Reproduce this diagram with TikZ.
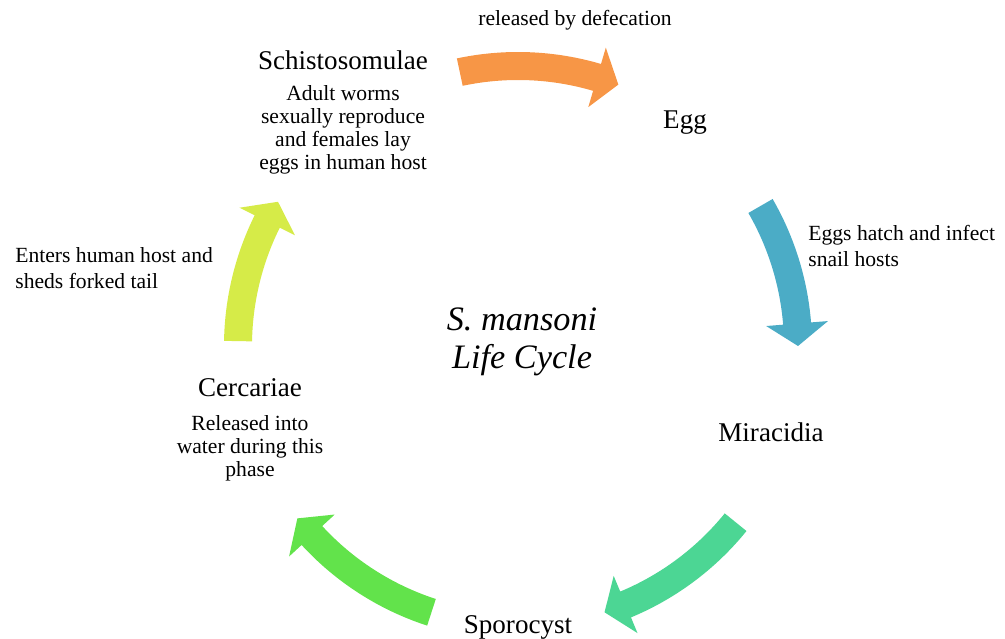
\documentclass[tikz,border=0pt]{standalone}
\usepackage{fontspec}
\setmainfont{Liberation Serif}
\usetikzlibrary{calc}
\definecolor{arrOrange}{HTML}{F79646}
\definecolor{arrTeal}{HTML}{4BACC6}
\definecolor{arrMint}{HTML}{4CD694}
\definecolor{arrGreen}{HTML}{62E34B}
\definecolor{arrLime}{HTML}{D6EB48}
% block arc arrow round (cen): colour, tail angle, tip angle
\newcommand{\cyclearrow}[3]{%
  \fill[#1] ($(cen)+(#2:5.88)$) arc[start angle=#2, end angle=#3+4.6, radius=5.88]
    -- ($(cen)+(#3+4.6:6.22)$) -- ($(cen)+(#3:5.6)$) -- ($(cen)+(#3+4.6:4.98)$)
    -- ($(cen)+(#3+4.6:5.32)$) arc[start angle=#3+4.6, end angle=#2, radius=5.32] -- cycle;}

\begin{document}
\begin{tikzpicture}[
			stage/.style={inner sep=0pt, font=\fontsize{15.4}{18}\selectfont},
			desc/.style={inner sep=0pt, align=center, font=\fontsize{12.3}{13.1}\selectfont},
			note/.style={inner sep=0pt, align=left, anchor=west, font=\fontsize{12.3}{14.8}\selectfont}
		]
		\useasboundingbox (0,0) rectangle (20.1,12.76);
		\coordinate (cen) at (10.36,5.84);

		\cyclearrow{arrOrange}{102}{69}
		\cyclearrow{arrTeal}{30}{0}
		\cyclearrow{arrMint}{-39}{-72}
		\cyclearrow{arrGreen}{-108}{-142}
		\cyclearrow{arrLime}{179}{149}

		\node[stage] (sch) at (6.86,11.56) {Schistosomulae};
		\node[desc] (schtxt) at (6.86,10.17) {Adult worms\\sexually reproduce\\and females lay\\eggs in human host};
		\node[stage] (egg) at (13.70,10.30) {Egg};
		\node[stage] (mir) at (15.42,4.12) {Miracidia};
		\node[stage] (spo) at (10.36,0.22) {Sporocyst};
		\node[stage] (cer) at (5.00,5.00) {Cercariae};
		\node[desc] (certxt) at (5.00,3.80) {Released into\\water during this\\phase};

		\node[desc] (defec) at (11.50,12.36) {released by defecation};
		\node[note] (hatch) at (16.16,7.84) {Eggs hatch and infect\\snail hosts};
		\node[note] (enter) at (0.30,7.40) {Enters human host and\\sheds forked tail};

		\node[align=center, font=\fontsize{19.5}{22}\selectfont\itshape] (title) at (10.44,5.92) {S. mansoni\\Life Cycle};

	\end{tikzpicture}
\end{document}
